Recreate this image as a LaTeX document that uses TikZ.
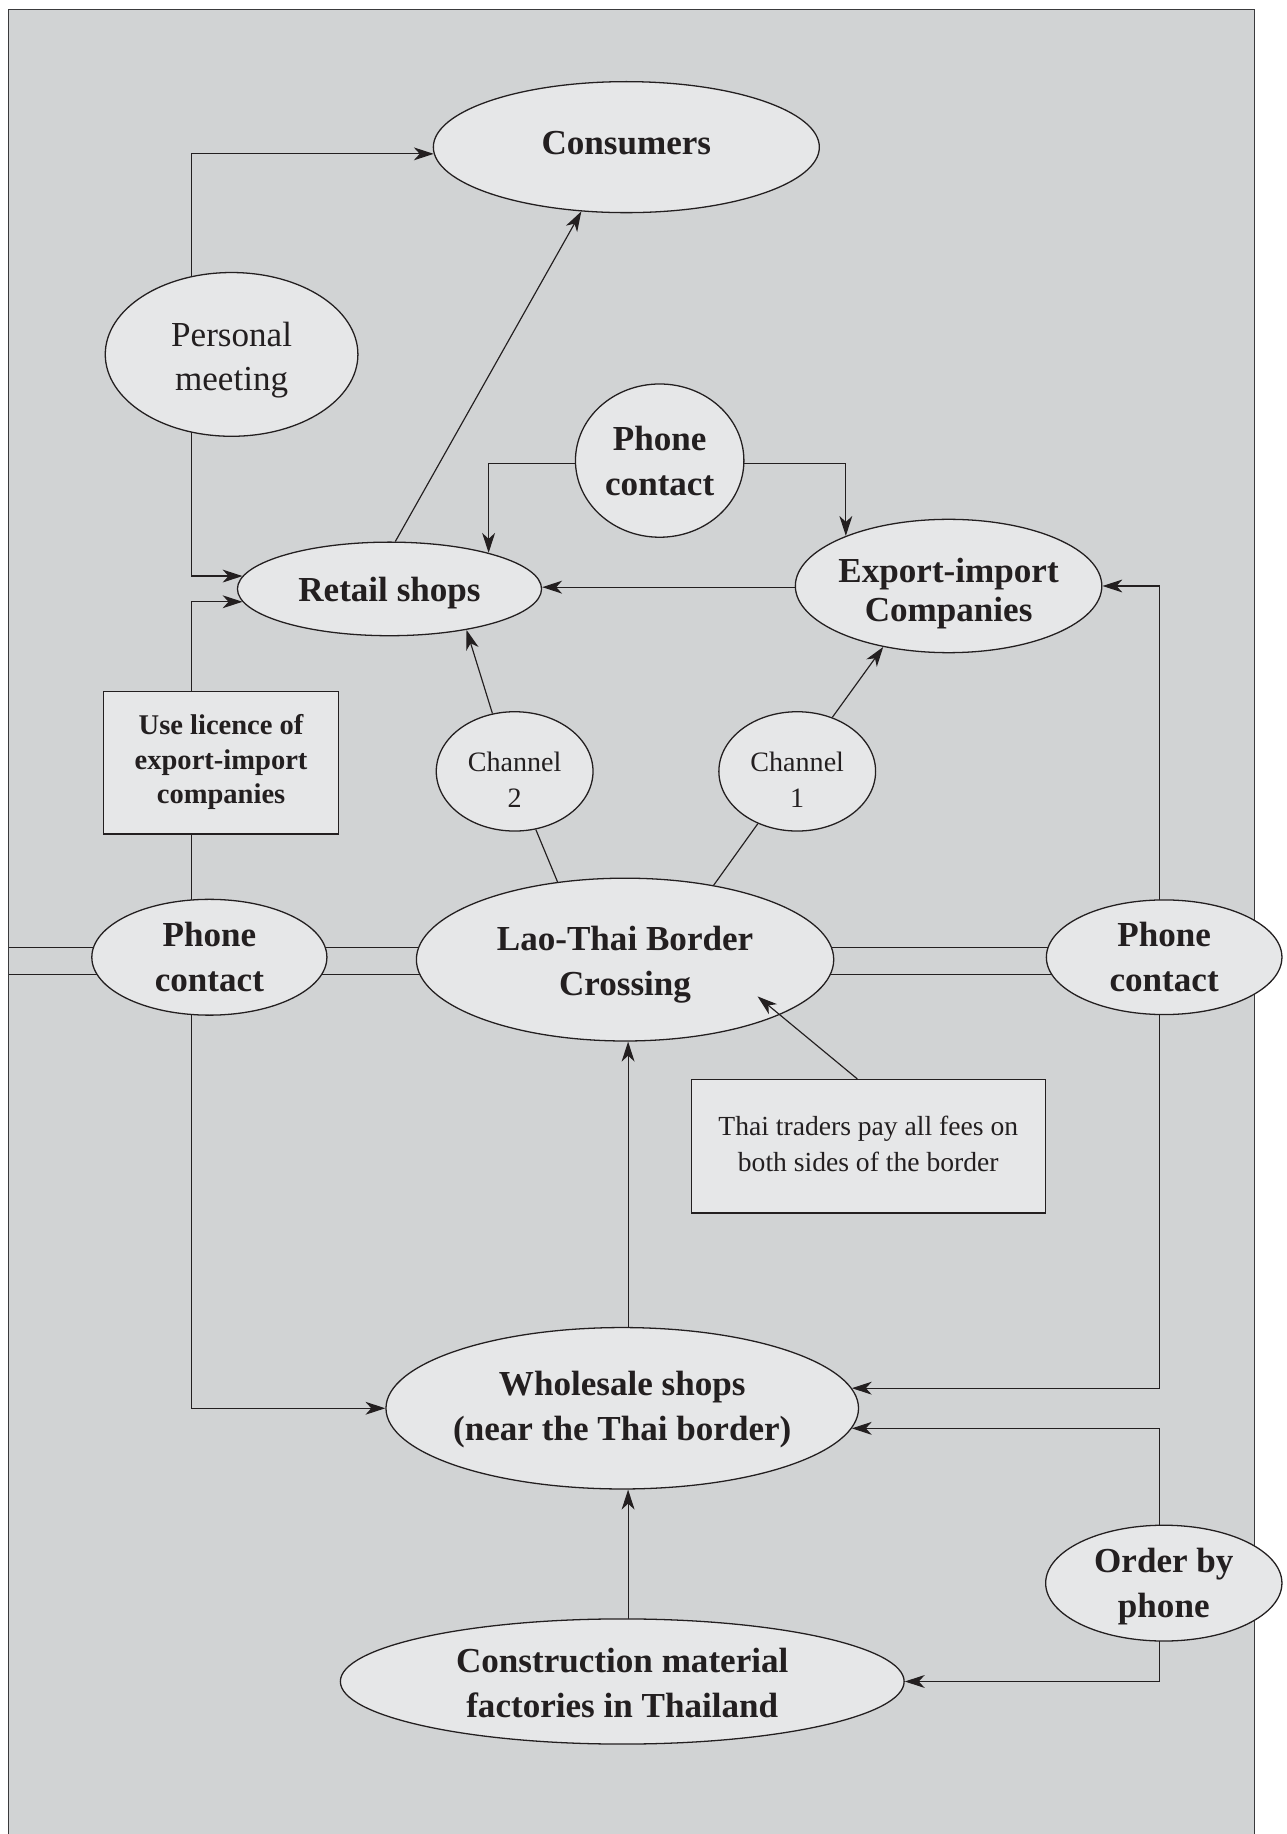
\documentclass[tikz,border=0pt]{standalone}
\usepackage{fontspec}
\setmainfont{Liberation Serif}
\usetikzlibrary{shapes.geometric,arrows.meta,calc}
\definecolor{bgc}{HTML}{D1D3D4}
\definecolor{ndc}{HTML}{E6E7E8}
\definecolor{lnc}{HTML}{231F20}
\definecolor{frc}{HTML}{3A3A3C}
\pgfdeclarelayer{bg}
\pgfsetlayers{bg,main}
\begin{document}
\begin{tikzpicture}[x=0.5pt,y=-0.5pt,
  ell/.style={ellipse, draw=lnc, fill=ndc, line width=0.55pt, inner xsep=-12pt, inner ysep=-6pt, align=center, text=lnc, text depth=0pt},
  bx/.style={rectangle, draw=lnc, fill=ndc, line width=0.55pt, inner sep=0pt, align=center, text=lnc, text depth=0pt},
  bigb/.style={font=\fontsize{15}{19.2}\selectfont\bfseries},
  bigr/.style={font=\fontsize{15}{19}\selectfont},
  smr/.style={font=\fontsize{12}{15.4}\selectfont},
  conn/.style={draw=lnc, line width=0.5pt},
  arr/.style={conn, -{Stealth[length=8.5pt,width=5.5pt,inset=2.5pt]}},
]
\useasboundingbox (0,0) rectangle (1100,1568);

% nodes
\node[ell,bigb,text depth=3.3pt,minimum width=165pt,minimum height=56pt] (cons) at (535.5,125.8) {Consumers};
\node[ell,bigr,text height=31.2pt,minimum width=108pt,minimum height=70pt] (pm) at (198,303) {Personal\\meeting};
\node[ell,bigb,minimum width=72pt,minimum height=65.5pt] (pct) at (564,393.8) {Phone\\contact};
\node[ell,bigb,minimum width=130pt,minimum height=40pt] (ret) at (333,503.5) {Retail shops};
\node[ell,font=\fontsize{15}{16.3}\selectfont\bfseries,text height=30pt,minimum width=131pt,minimum height=57pt] (exp) at (811,501) {Export-import\\Companies};
\node[ell,smr,text height=31.1pt,minimum width=67pt,minimum height=51pt] (ch2) at (440,659.5) {Channel\\2};
\node[ell,smr,text height=31.1pt,minimum width=67pt,minimum height=51pt] (ch1) at (681.6,659.5) {Channel\\1};
\node[bx,font=\fontsize{12.2}{14.8}\selectfont\bfseries,text depth=3pt,minimum width=100.3pt,minimum height=61pt] (lic) at (189,652) {Use licence of\\export-import\\companies};
\node[ell,bigb,minimum width=100.5pt,minimum height=49.5pt] (pcl) at (179,818.4) {Phone\\contact};
\node[ell,bigb,text height=30.9pt,minimum width=178.4pt,minimum height=69.6pt] (lao) at (534.4,820.4) {Lao-Thai Border\\Crossing};
\node[ell,bigb,minimum width=100.7pt,minimum height=49pt] (pcr) at (995.3,818.4) {Phone\\contact};
\node[bx,font=\fontsize{11.8}{15.2}\selectfont,text depth=2pt,minimum width=151.3pt,minimum height=57pt] (thai) at (742.3,980) {Thai traders pay all fees on\\both sides of the border};
\node[ell,bigb,text depth=1.7pt,minimum width=202pt,minimum height=69pt] (whs) at (532,1204) {Wholesale shops\\(near the Thai border)};
\node[ell,bigb,minimum width=101pt,minimum height=49.5pt] (obp) at (995,1353.5) {Order by\\phone};
\node[ell,bigb,text height=30.6pt,minimum width=241pt,minimum height=53.5pt] (cmf) at (532,1437.6) {Construction material\\factories in Thailand};

% helper coordinates
\coordinate (vl) at (164,0);
\coordinate (vr) at (991,0);
\coordinate (vc) at (537,0);
\coordinate (hpc) at (0,396.6);
\coordinate (hex) at (0,502);
\coordinate (dl1) at (7.5,810);
\coordinate (dl2) at (7.5,833);
\coordinate (tx) at (733,0);
\coordinate (thaitip) at (647.7,851.9);

\begin{pgfonlayer}{bg}
\draw[fill=bgc, draw=frc, line width=0.6pt] (7.5,8) rectangle (1072.5,1600);
\draw[conn] (dl1) -- (dl1 -| pcr.center);
\draw[conn] (dl2) -- (dl2 -| pcr.center);
\draw[arr] (pm.center -| vl) |- (cons.182);
\draw[arr] (pm.center -| vl) |- (ret.175);
\draw[arr] (ret.83) -- (cons.235);
\draw[arr] (pct.center |- hpc) -| (ret.20);
\draw[arr] (pct.center |- hpc) -| (exp.154);
\draw[arr] (exp.center |- hex) -- (ret.east |- hex);
\draw[arr] (pcr.center -| vr) |- (exp.east);
\draw[arr] (ch2.111) -- (ret.332);
\draw[conn] (ch2.290) -- (lao.131);
\draw[arr] (ch1.57) -- (exp.223);
\draw[conn] (ch1.233) -- (lao.40);
\draw[arr] (pcl.center -| vl) |- (ret.185);
\draw[arr] (pcl.center -| vl) |- (whs.west);
\draw[arr] (whs.center -| vc) -- (lao.south -| vc);
\draw[arr] (pcr.center -| vr) |- (whs.5);
\draw[arr] (obp.center -| vr) |- (whs.-5);
\draw[arr] (obp.center -| vr) |- (cmf.east);
\draw[arr] (cmf.center -| vc) -- (whs.south -| vc);
\end{pgfonlayer}

\draw[arr] (thai.north -| tx) -- (thaitip);
\end{tikzpicture}
\end{document}
